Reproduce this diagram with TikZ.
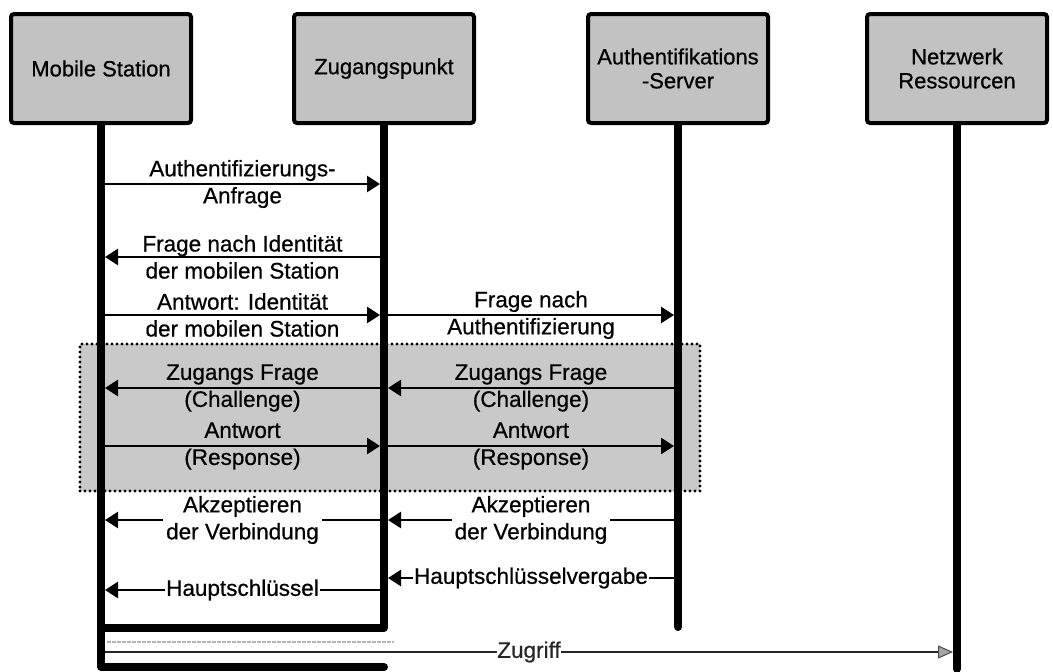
\documentclass[tikz,border=0pt]{standalone}
\usepackage{fontspec}
\setmainfont[FakeBold=0.6]{Liberation Sans}
\usetikzlibrary{arrows.meta}
\definecolor{boxgray}{gray}{0.76}
\definecolor{zonegray}{gray}{0.79}
\begin{document}
\begin{tikzpicture}[x=1pt,y=-1pt,
  lbl/.style={font=\fontsize{22.5}{27}\selectfont, align=center, inner sep=1pt},
  wlbl/.style={lbl, fill=white},
  actor/.style={draw, line width=4pt, rounded corners=3pt, fill=boxgray,
    minimum width=180pt, minimum height=109pt,
    font=\fontsize{22}{24}\selectfont, align=center, inner sep=0pt},
  life/.style={line width=8pt, line join=round, line cap=round},
  msg/.style={line width=2.7pt, -{Triangle[length=13pt,width=16pt]},
    shorten >=4pt, shorten <=4pt},
  access/.style={line width=1.8pt, black!85,
    -{Triangle[length=15pt,width=13pt,fill=black!35,color=black!70,line width=1pt]},
    shorten >=4pt, shorten <=4pt},
  zone/.style={draw, fill=zonegray, line width=3.2pt, line cap=round,
    dash pattern=on 0pt off 5pt, minimum width=620pt, minimum height=147pt},
  faint/.style={black!30, line width=1.5pt, dash pattern=on 4pt off 1pt},
]
\useasboundingbox (0,0) rectangle (1053,672);

% shaded challenge/response zone
\node[zone] (zone) at (390,417.5) {};

% actor coordinates (box centres)
\coordinate (msc) at (101,68.5);
\coordinate (zpc) at (384,68.5);
\coordinate (asc) at (678,68.5);
\coordinate (nrc) at (957,68.5);

% lifelines
\draw[life] (msc) -- (msc |- 0,667) -- (zpc |- 0,667);
\draw[life] (zpc) -- (zpc |- 0,628) -- (msc |- 0,628);
\draw[life] (asc) -- (asc |- 0,627);
\draw[life] (nrc) -- (nrc |- 0,669);

% actors
\node[actor] (ms) at (msc) {Mobile Station};
\node[actor] (zp) at (zpc) {Zugangspunkt};
\node[actor] (as) at (asc) {Authentifikations\\-Server};
\node[actor] (nr) at (nrc) {Netzwerk\\Ressourcen};

% messages
\draw[msg] (ms.south |- 0,184) -- node[lbl]{Authentifizierungs-\\Anfrage} (zp.south |- 0,184);
\draw[msg] (zp.south |- 0,257) -- node[lbl]{Frage nach Identität\\der mobilen Station} (ms.south |- 0,257);
\draw[msg] (ms.south |- 0,315) -- node[lbl]{Antwort: Identität\\der mobilen Station} (zp.south |- 0,315);
\draw[msg] (zp.south |- 0,315) -- node[lbl]{Frage nach\\Authentifizierung} (as.south |- 0,315);

\draw[msg] (zp.south |- 0,388) -- node[lbl]{Zugangs Frage\\(Challenge)} (ms.south |- 0,388);
\draw[msg] (as.south |- 0,388) -- node[lbl]{Zugangs Frage\\(Challenge)} (zp.south |- 0,388);
\draw[msg] (ms.south |- 0,446) -- node[lbl]{Antwort\\(Response)} (zp.south |- 0,446);
\draw[msg] (zp.south |- 0,446) -- node[lbl]{Antwort\\(Response)} (as.south |- 0,446);

\draw[msg] (zp.south |- 0,520) -- node[wlbl, inner sep=3pt]{Akzeptieren\\der Verbindung} (ms.south |- 0,520);
\draw[msg] (as.south |- 0,520) -- node[wlbl, inner sep=3pt]{Akzeptieren\\der Verbindung} (zp.south |- 0,520);

\draw[msg] (as.south |- 0,578) -- node[wlbl]{Hauptschlüsselvergabe} (zp.south |- 0,578);
\draw[msg] (zp.south |- 0,590) -- node[wlbl]{Hauptschlüssel} (ms.south |- 0,590);

% access
\draw[faint] ([xshift=6pt]ms.south |- 0,642) -- ([xshift=10pt]zp.south |- 0,642);
\draw[access] (ms.south |- 0,652) -- node[wlbl, inner sep=0.5pt]{Zugriff} (nr.south |- 0,652);
\end{tikzpicture}
\end{document}
